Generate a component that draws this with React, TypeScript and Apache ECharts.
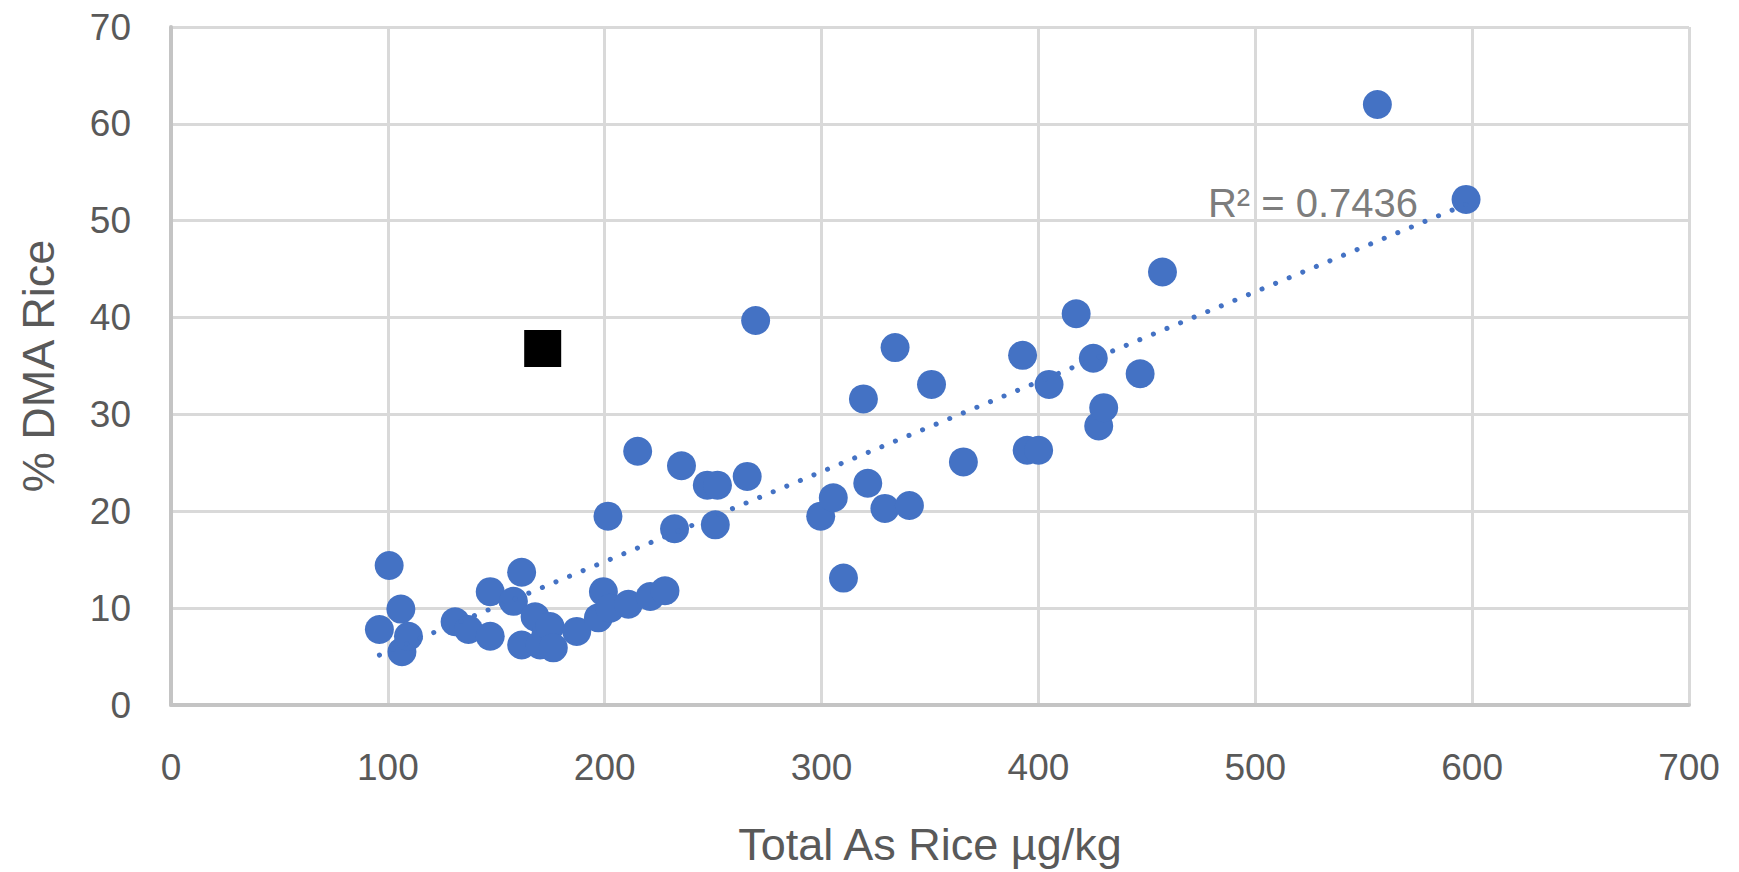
import React, { useEffect, useRef } from "react";
import * as echarts from "echarts";

// Blue series: Total As in rice (µg/kg) vs % DMA in rice
const totalAs = [
  96.1, 100.6, 106, 106.5, 109.5, 131, 137.2, 147.2, 147.2, 157.9,
  161.7, 161.7, 167.9, 170.2, 173, 174.8, 176.3, 187.1, 197.1, 199.4,
  202.5, 210.9, 221, 227.8, 201.5, 215.2, 232.2, 235.4, 247.3, 252,
  251, 265.7, 269.6, 299.6, 305.4, 310.1, 319.3, 321.3, 329.2, 333.9,
  340.5, 350.7, 365.4, 392.7, 394.8, 400.1, 404.9, 417.4, 425.3, 427.8,
  430.1, 446.9, 457.2, 556.3, 597.2,
];
const dmaPct = [
  7.8, 14.4, 9.9, 5.5, 7.1, 8.6, 7.8, 7.1, 11.7, 10.7,
  13.7, 6.2, 9.1, 6.2, 7.5, 8.1, 5.9, 7.6, 9.0, 11.7,
  10.0, 10.4, 11.2, 11.8, 19.5, 26.2, 18.2, 24.7, 22.7, 22.7,
  18.6, 23.6, 39.7, 19.5, 21.4, 13.1, 31.6, 22.9, 20.3, 36.9,
  20.6, 33.1, 25.1, 36.1, 26.3, 26.3, 33.1, 40.4, 35.8, 28.8,
  30.7, 34.2, 44.7, 62.0, 52.2,
];

// Highlighted point (black square), part of the same series for the trendline
const squareX = [171.4];
const squareY = [36.8];

// Trendline label
const r2Text = "R² = 0.7436";
const r2LabelAt = [526.6, 51.8];

const xAxisTitle = "Total As Rice µg/kg";
const yAxisTitle = "% DMA Rice";

function linearFit(xs: number[], ys: number[]) {
  const n = xs.length;
  let sx = 0, sy = 0, sxx = 0, sxy = 0;
  for (let i = 0; i < n; i++) {
    sx += xs[i]; sy += ys[i]; sxx += xs[i] * xs[i]; sxy += xs[i] * ys[i];
  }
  const b = (n * sxy - sx * sy) / (n * sxx - sx * sx);
  const a = (sy - b * sx) / n;
  return { a, b };
}

export default function App() {
  const ref = useRef<HTMLDivElement>(null);
  useEffect(() => {
    if (!ref.current) return;
    const chart = echarts.init(ref.current, undefined, { renderer: "svg" });
    const allX = totalAs.concat(squareX);
    const allY = dmaPct.concat(squareY);
    const fit = linearFit(allX, allY);
    const minX = Math.min(...allX);
    const maxX = Math.max(...allX);
    const trend = [
      [minX, fit.a + fit.b * minX],
      [maxX, fit.a + fit.b * maxX],
    ];
    const font = '"Liberation Sans", Arial, sans-serif';
    const textColor = "#595959";
    chart.setOption({
      animation: false,
      backgroundColor: "#ffffff",
      grid: { left: 171, right: 50, top: 27, bottom: 167, containLabel: false },
      xAxis: {
        type: "value",
        min: 0,
        max: 700,
        interval: 100,
        name: xAxisTitle,
        nameLocation: "middle",
        nameGap: 117,
        nameTextStyle: { fontFamily: font, fontSize: 45, color: textColor },
        axisLine: { show: true, lineStyle: { color: "#c4c4c4", width: 4 } },
        axisTick: { show: false },
        axisLabel: { margin: 44, fontFamily: font, fontSize: 37, color: textColor },
        splitLine: { show: true, lineStyle: { color: "#d9d9d9", width: 3 } },
      },
      yAxis: {
        type: "value",
        min: 0,
        max: 70,
        interval: 10,
        name: yAxisTitle,
        nameLocation: "middle",
        nameGap: 110,
        nameRotate: 90,
        nameTextStyle: { fontFamily: font, fontSize: 45, color: textColor },
        axisLine: { show: true, lineStyle: { color: "#c4c4c4", width: 4 } },
        axisTick: { show: false },
        axisLabel: { margin: 40, fontFamily: font, fontSize: 37, color: textColor },
        splitLine: { show: true, lineStyle: { color: "#d9d9d9", width: 3 } },
      },
      series: [
        {
          type: "scatter",
          data: totalAs.map((x, i) => [x, dmaPct[i]]),
          symbol: "circle",
          symbolSize: 29,
          itemStyle: { color: "#4472C4", opacity: 1 },
          z: 2,
        },
        {
          type: "scatter",
          data: squareX.map((x, i) => [x, squareY[i]]),
          symbol: "rect",
          symbolSize: 37,
          itemStyle: { color: "#000000", opacity: 1 },
          z: 2,
        },
        {
          type: "line",
          data: trend,
          symbol: "none",
          lineStyle: { color: "#4472C4", width: 5, type: [0.1, 14.6], cap: "round", opacity: 1 },
          z: 3,
        },
        {
          type: "scatter",
          data: [r2LabelAt],
          symbolSize: 0,
          silent: true,
          label: {
            show: true,
            position: "inside",
            formatter: r2Text,
            fontFamily: font,
            fontSize: 40,
            color: textColor,
          },
          z: 4,
        },
      ],
    });
    return () => chart.dispose();
  }, []);
  return (
    <div
      ref={ref}
      style={{ position: "fixed", left: 0, top: 0, width: 1739, height: 872 }}
    />
  );
}
